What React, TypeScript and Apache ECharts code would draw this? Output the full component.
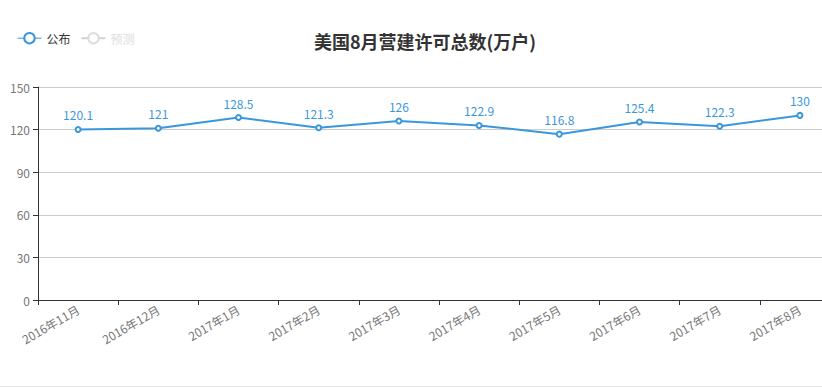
import React, { useEffect, useRef } from "react";
import * as echarts from "echarts";

const categories = ["2016年11月", "2016年12月", "2017年1月", "2017年2月", "2017年3月", "2017年4月", "2017年5月", "2017年6月", "2017年7月", "2017年8月"];
const publishedValues = [120.1, 121, 128.5, 121.3, 126, 122.9, 116.8, 125.4, 122.3, 130];
const forecastValues: (number | null)[] = [];
const yTicks = { min: 0, max: 150, interval: 30 };

export default function App() {
  const ref = useRef<HTMLDivElement>(null);
  useEffect(() => {
    const chart = echarts.init(ref.current!, null, { renderer: "svg" });
    const font = '"Noto Sans CJK SC", "Microsoft YaHei", sans-serif';
    chart.setOption({
      animation: false,
      textStyle: { fontFamily: font },
      title: {
        text: "美国8月营建许可总数(万户)",
        left: "center",
        top: 27,
        textStyle: { fontSize: 18, fontWeight: "bold", color: "#333", fontFamily: font },
      },
      legend: {
        left: 12,
        top: 27,
        itemWidth: 24,
        itemHeight: 13,
        itemGap: 10,
        data: ["公布", "预测"],
        selected: { "公布": true, "预测": false },
        inactiveColor: "#ddd",
        itemStyle: { borderWidth: 1 },
        lineStyle: { width: 1 },
        textStyle: { color: "#333", fontSize: 12, fontFamily: font },
      },
      grid: { left: 38, right: 10, top: 87, bottom: 89 },
      xAxis: {
        type: "category",
        data: categories,
        boundaryGap: true,
        axisLine: { lineStyle: { color: "#333" } },
        axisTick: { show: true, lineStyle: { color: "#333" } },
        axisLabel: { rotate: 30, color: "#777", fontSize: 12, interval: 0, fontFamily: font },
      },
      yAxis: {
        type: "value",
        min: yTicks.min,
        max: yTicks.max,
        interval: yTicks.interval,
        axisLine: { show: true, lineStyle: { color: "#333" } },
        axisTick: { show: true, lineStyle: { color: "#333" } },
        axisLabel: { color: "#777", fontSize: 12, fontFamily: font },
        splitLine: { lineStyle: { color: "#ccc" } },
      },
      series: [
        {
          name: "公布",
          type: "line",
          data: publishedValues,
          symbol: "emptyCircle",
          symbolSize: 5,
          itemStyle: { color: "#3a97dc" },
          lineStyle: { width: 2, color: "#3a97dc" },
          label: { show: true, position: "top", color: "#3a97dc", fontSize: 12, fontFamily: font },
        },
        {
          name: "预测",
          type: "line",
          data: forecastValues,
          symbol: "emptyCircle",
          itemStyle: { color: "#e0e0e0" },
        },
      ],
    });
    return () => chart.dispose();
  }, []);
  return (
    <div style={{ position: "absolute", left: 0, top: 0, width: 822, height: 389, overflow: "hidden", background: "#fff" }}>
      <div ref={ref} style={{ position: "absolute", left: 0, top: 0, width: 850, height: 389 }} />
      <div style={{ position: "absolute", left: 0, top: 386, width: 822, height: 1, background: "#e6e6e6" }} />
    </div>
  );
}
